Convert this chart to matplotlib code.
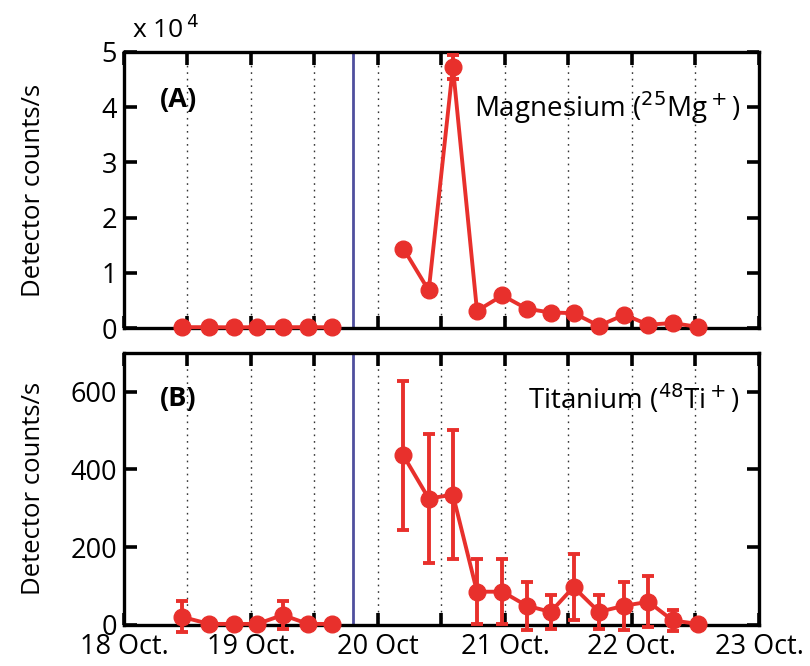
import matplotlib
matplotlib.use("Agg")
import matplotlib.pyplot as plt
from matplotlib.ticker import FuncFormatter

plt.rcParams['font.family'] = ['Open Sans', 'DejaVu Sans']

# Sample times (day of October, fractional)
t_pre = [18.46, 18.67, 18.87, 19.05, 19.25, 19.45, 19.64]
t_post = [20.20, 20.40, 20.59, 20.78, 20.98, 21.17, 21.36, 21.54,
          21.74, 21.94, 22.13, 22.32, 22.52]

# Magnesium (25Mg+) detector counts/s
mg_pre = [150, 150, 120, 150, 140, 150, 130]
mg_post = [14400, 6800, 47300, 3100, 5900, 3500, 2800, 2700,
           400, 2400, 600, 900, 200]
mg_post_err = [0, 0, 2200, 0, 0, 0, 0, 0, 0, 0, 0, 0, 0]

# Titanium (48Ti+) detector counts/s
ti_pre = [20, 2, 2, 2, 25, 2, 2]
ti_pre_err = [40, 0, 0, 0, 35, 0, 0]
ti_post = [436, 325, 335, 85, 85, 49, 33, 97, 33, 49, 59, 11, 2]
ti_post_err = [192, 165, 167, 84, 84, 62, 44, 85, 44, 62, 66, 28, 0]

day_ticks = [18, 18.5, 19, 19.5, 20, 20.5, 21, 21.5, 22, 22.5, 23]
day_labels = ['18 Oct.', '', '19 Oct.', '', '20 Oct', '', '21 Oct.', '',
              '22 Oct.', '', '23 Oct.']
event_day = 19.80

red = '#e8302c'
blue = '#4f4f9e'

fig = plt.figure(figsize=(8.1, 6.66), dpi=100)
axA = fig.add_axes([0.153, 0.5075, 0.784, 0.4145])
axB = fig.add_axes([0.153, 0.062, 0.784, 0.408])


def style_axis(ax):
    ax.set_xlim(18, 23)
    ax.set_xticks(day_ticks)
    for x in day_ticks[1:-1]:
        ax.axvline(x, color='#333333', lw=1.0, ls=(0, (1.2, 3.5)), zorder=0)
    ax.axvline(event_day, color=blue, lw=2.0, zorder=1)
    for s in ax.spines.values():
        s.set_linewidth(2.4)
    ax.tick_params(direction='in', length=9, width=2.6, top=True, right=True)
    ax.tick_params(axis='x', pad=6, labelsize=19.5)
    ax.tick_params(axis='y', pad=5, labelsize=19.5)
    ax.set_ylabel('Detector counts/s', fontsize=18.5)
    ax.yaxis.set_label_coords(-0.122, 0.5)


def draw_series(ax, t, y, err):
    ax.errorbar(t, y, yerr=err, color=red, lw=2.8, marker='o', ms=12,
                elinewidth=2.8, capsize=4.5, capthick=2.8, clip_on=False,
                zorder=3)


style_axis(axA)
draw_series(axA, t_pre, mg_pre, None)
draw_series(axA, t_post, mg_post, mg_post_err)
axA.set_ylim(0, 50000)
axA.set_yticks([0, 10000, 20000, 30000, 40000, 50000])
axA.yaxis.set_major_formatter(FuncFormatter(lambda v, p: f'{v/1e4:g}'))
axA.set_xticklabels([])
axA.text(0.012, 1.03, r'x 10$^{\,4}$', transform=axA.transAxes,
         fontsize=19, ha='left', va='bottom')
axA.text(0.056, 0.825, '(A)', transform=axA.transAxes, fontsize=19.5,
         fontweight='bold', va='center')
axA.text(0.97, 0.80, r'Magnesium ($^{25}$Mg$^+$)', transform=axA.transAxes,
         fontsize=20, ha='right', va='center')

style_axis(axB)
draw_series(axB, t_pre, ti_pre, ti_pre_err)
draw_series(axB, t_post, ti_post, ti_post_err)
axB.set_ylim(0, 700)
axB.set_yticks([0, 200, 400, 600])
axB.set_xticklabels(day_labels)
axB.text(0.056, 0.83, '(B)', transform=axB.transAxes, fontsize=19.5,
         fontweight='bold', va='center')
axB.text(0.97, 0.83, r'Titanium ($^{48}$Ti$^+$)', transform=axB.transAxes,
         fontsize=20, ha='right', va='center')

fig.savefig('out.png', dpi=100, facecolor='white')
